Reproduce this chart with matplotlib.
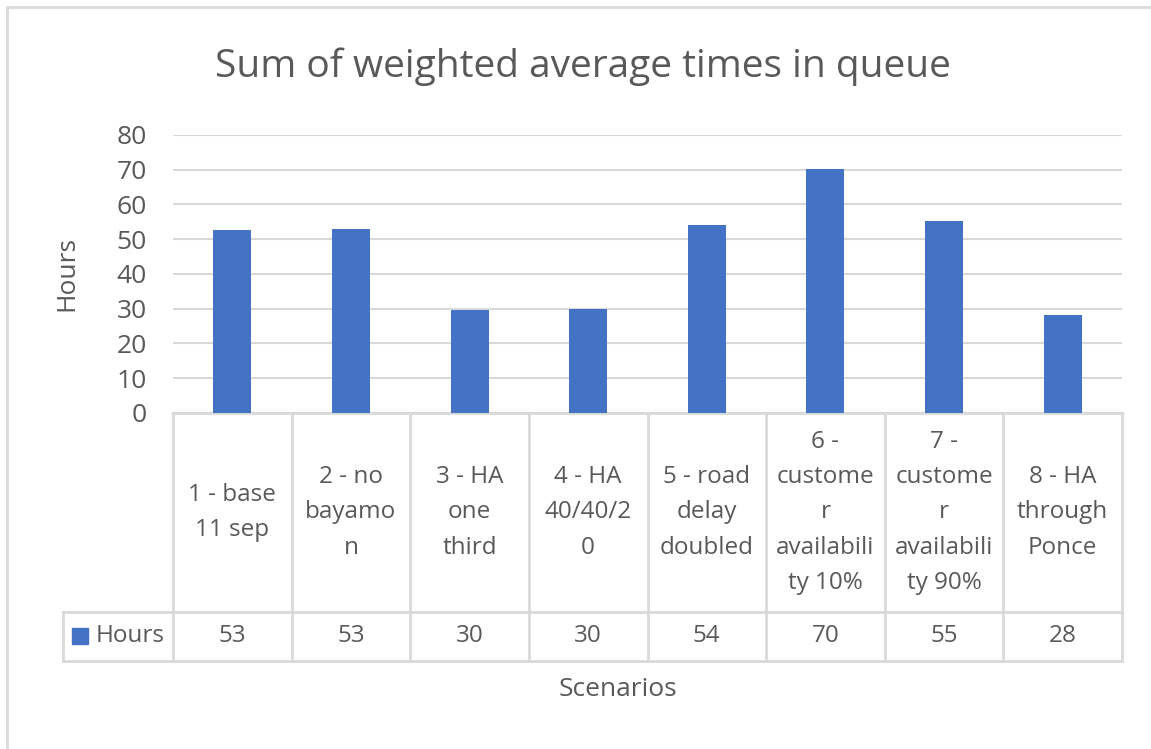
import matplotlib.pyplot as plt
import matplotlib.transforms as mtransforms
from matplotlib.patches import Rectangle

# data
scenarios = ["1 - base\n11 sep", "2 - no\nbayamo\nn", "3 - HA\none\nthird", "4 - HA\n40/40/2\n0",
             "5 - road\ndelay\ndoubled", "6 -\ncustome\nr\navailabili\nty 10%",
             "7 -\ncustome\nr\navailabili\nty 90%", "8 - HA\nthrough\nPonce"]
hours = [52.6, 52.9, 29.6, 30.0, 54.2, 70.3, 55.3, 28.1]
yticks = [0, 10, 20, 30, 40, 50, 60, 70, 80]

W, H = 1151, 749
BLUE = '#4472c4'
GRID = '#d9d9d9'
TXT = '#595959'
plt.rcParams['font.family'] = ['Open Sans', 'DejaVu Sans']

fig = plt.figure(figsize=(W / 100, H / 100), dpi=100)
fig.patches.append(Rectangle((7 / W, -0.1), 1.2, 1.1 - 7 / H, transform=fig.transFigure,
                             fill=False, edgecolor=GRID, lw=2))

ax = fig.add_axes([173 / W, 1 - 413 / H, (1122 - 173) / W, (413 - 135) / H])
x = list(range(len(hours)))
ax.bar(x, hours, width=0.32, color=BLUE, zorder=3)
ax.set_xlim(-0.5, len(hours) - 0.5)
ax.set_ylim(0, 80)
ax.set_yticks(yticks)
ax.set_yticklabels([str(t) for t in yticks])
ax.tick_params(axis='y', length=0, pad=19, labelsize=19, labelcolor=TXT)
ax.set_xticks([])
ax.grid(axis='y', color=GRID, lw=1.5, zorder=0)
for s in ax.spines.values():
    s.set_visible(False)

# data table under the plot: x in data units, y in axes fraction
tr = mtransforms.blended_transform_factory(ax.transData, ax.transAxes)
row1 = -(612 - 413) / 278
row2 = -(661 - 413) / 278
leg_left = -0.5 - (173 - 63) / 118.625
n = len(hours)
lk = dict(color=GRID, lw=2, transform=tr, clip_on=False, zorder=2)
ax.plot([-0.5, n - 0.5], [0, 0], **lk)
ax.plot([leg_left, n - 0.5], [row1, row1], **lk)
ax.plot([leg_left, n - 0.5], [row2, row2], **lk)
ax.plot([leg_left, leg_left], [row1, row2], **lk)
for b in range(n + 1):
    ax.plot([b - 0.5, b - 0.5], [0, row2], **lk)

for i, (lab, v) in enumerate(zip(scenarios, hours)):
    ax.text(i, row1 / 2, lab, transform=tr, ha='center', va='center', fontsize=17.5,
            color=TXT, linespacing=1.62)
    ax.text(i, (row1 + row2) / 2, f"{v:.0f}", transform=tr, ha='center', va='center',
            fontsize=17.5, color=TXT)

ax.add_patch(Rectangle((-0.5 - (173 - 72) / 118.625, (row1 + row2) / 2 - 8 / 278), 16 / 118.625, 16 / 278,
                       transform=tr, clip_on=False, color=BLUE))
ax.text(-0.5 - (173 - 96) / 118.625, (row1 + row2) / 2, "Hours", transform=tr, ha='left', va='center',
        fontsize=17.5, color=TXT)

fig.text(583 / W, 1 - 67 / H, "Sum of weighted average times in queue", ha='center', va='center',
         fontsize=28, color=TXT)
fig.text(67 / W, 1 - 274 / H, "Hours", rotation=90, ha='center', va='center', fontsize=19, color=TXT)
fig.text(618 / W, 1 - 689 / H, "Scenarios", ha='center', va='center', fontsize=19, color=TXT)

fig.savefig('out.png', dpi=100, facecolor='white')
